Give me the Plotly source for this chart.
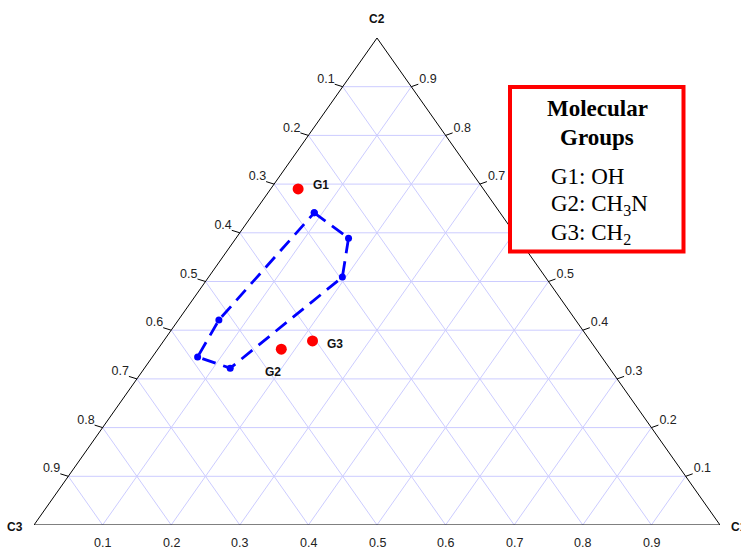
import plotly.graph_objects as go

# ---- data (ternary compositions) ----
group_names = ["G1", "G2", "G3"]
group_c1 = [0.040, 0.180, 0.217]
group_c2 = [0.690, 0.361, 0.378]
group_c3 = [0.270, 0.459, 0.405]

region_c1 = [0.088, 0.164, 0.195, 0.125, 0.066, 0.059, 0.088]
region_c2 = [0.641, 0.589, 0.509, 0.322, 0.345, 0.421, 0.641]
region_c3 = [0.271, 0.247, 0.296, 0.553, 0.589, 0.520, 0.271]

tick_values = [0.1, 0.2, 0.3, 0.4, 0.5, 0.6, 0.7, 0.8, 0.9]
tick_labels = ["0.1", "0.2", "0.3", "0.4", "0.5", "0.6", "0.7", "0.8", "0.9"]
axis_names = ["C1", "C2", "C3"]

legend_title = ["Molecular", "Groups"]
legend_lines = ["G1: OH", "G2: CH<sub>3</sub>N", "G3: CH<sub>2</sub>"]


def to_xy(c1, c2, c3):
    s = c1 + c2 + c3
    a, b = c1 / s, c2 / s
    return a + b / 2.0, b


def many(c1s, c2s, c3s):
    xs, ys = [], []
    for a, b, c in zip(c1s, c2s, c3s):
        x, y = to_xy(a, b, c)
        xs.append(x)
        ys.append(y)
    return xs, ys


W, H = 741, 549
ML, MR, MT, MB = 34, 21, 38, 24
PW, PH = W - ML - MR, H - MT - MB

fig = go.Figure()

# grid lines
gx, gy = [], []
for v in tick_values:
    for p, q in [((0, v, 1 - v), (1 - v, v, 0)),      # constant C2
                 ((v, 0, 1 - v), (v, 1 - v, 0)),      # constant C1
                 ((1 - v, 0, v), (0, 1 - v, v))]:     # constant C3
        x0, y0 = to_xy(*p)
        x1, y1 = to_xy(*q)
        gx += [x0, x1, None]
        gy += [y0, y1, None]
fig.add_trace(go.Scatter(x=gx, y=gy, mode="lines", hoverinfo="skip",
                         line=dict(color="rgb(204,204,255)", width=1)))

# triangle edges
ex, ey = many([0, 1, 0, 0], [0, 0, 1, 0], [1, 0, 0, 1])
fig.add_trace(go.Scatter(x=ex, y=ey, mode="lines", hoverinfo="skip",
                         line=dict(color="black", width=1)))

# tick marks (left: C3, right: C2) + corner ticks
dxl, dyl = -8 / PW, 2.5 / PH
dxr, dyr = 7 / PW, 2.5 / PH
tx, ty = [], []
for v in tick_values:
    x, y = to_xy(0, 1 - v, v)
    tx += [x, x + dxl, None]
    ty += [y, y + dyl, None]
    x, y = to_xy(1 - v, v, 0)
    tx += [x, x + dxr, None]
    ty += [y, y + dyr, None]
for c in [(0, 0, 1), (1, 0, 0)]:
    x, y = to_xy(*c)
    tx += [x, x, None]
    ty += [y, y - 5 / PH, None]
fig.add_trace(go.Scatter(x=tx, y=ty, mode="lines", hoverinfo="skip", cliponaxis=False,
                         line=dict(color="black", width=1)))

# side tick labels as text traces (so the legend box can cover them)
tick_font = dict(family="Arial, Liberation Sans, sans-serif", size=12.5, color="#222")
lx, ly, rx_, ry_ = [], [], [], []
for v in tick_values:
    x, y = to_xy(0, 1 - v, v)
    lx.append(x - 8 / PW); ly.append(y + 7 / PH)
    x, y = to_xy(1 - v, v, 0)
    rx_.append(x + 8 / PW); ry_.append(y + 7 / PH)
for xs, ys, pos in [(lx, ly, "middle left"), (rx_, ry_, "middle right")]:
    fig.add_trace(go.Scatter(x=xs, y=ys, mode="text", text=tick_labels, textposition=pos,
                             textfont=tick_font, cliponaxis=False, hoverinfo="skip"))

# region polygon
rx, ry = many(region_c1, region_c2, region_c3)
fig.add_trace(go.Scatter(x=rx, y=ry, mode="lines+markers", cliponaxis=False,
                         line=dict(color="#0000ff", width=2.8, dash="14px,8px"),
                         marker=dict(color="#0000ff", size=7)))

# group points
px_, py_ = many(group_c1, group_c2, group_c3)
fig.add_trace(go.Scatter(x=px_, y=py_, mode="markers", cliponaxis=False,
                         marker=dict(color="#ff0000", size=11)))

bold_font = dict(family="Arial, Liberation Sans, sans-serif", size=12, color="#111")

annotations = []
# bottom tick labels (C1)
for v, lab in zip(tick_values, tick_labels):
    x, y = to_xy(v, 0, 1 - v)
    annotations.append(dict(x=x, y=y, text=lab, showarrow=False, xanchor="center",
                            yanchor="middle", yshift=-18, font=tick_font))
# corner names
cx, cy = to_xy(1, 0, 0)
annotations.append(dict(x=cx, y=cy, text="<b>C1</b>", showarrow=False, xanchor="left",
                        yanchor="middle", xshift=9, yshift=-2, font=bold_font))
cx, cy = to_xy(0, 1, 0)
annotations.append(dict(x=cx, y=cy, text="<b>C2</b>", showarrow=False, xanchor="center",
                        yanchor="middle", yshift=19, font=bold_font))
cx, cy = to_xy(0, 0, 1)
annotations.append(dict(x=cx, y=cy, text="<b>C3</b>", showarrow=False, xanchor="right",
                        yanchor="middle", xshift=-9, yshift=-2, font=bold_font))

# group labels
label_offsets = [(13, 4, "left"), (-8, -23, "center"), (12, -3, "left")]
for name, x, y, (dx, dy, anc) in zip(group_names, px_, py_, label_offsets):
    annotations.append(dict(x=x, y=y, text="<b>" + name + "</b>", showarrow=False,
                            xanchor=anc, yanchor="middle", xshift=dx, yshift=dy,
                            font=dict(family="Arial, Liberation Sans, sans-serif",
                                      size=12, color="#111")))

# legend box text
serif = "Times New Roman, Liberation Serif, serif"
def px2paper(xp, yp):
    return (xp - ML) / PW, (H - MB - yp) / PH

for txt, ypix in zip(legend_title, [108, 137]):
    xp, yp = px2paper(597, ypix)
    annotations.append(dict(xref="paper", yref="paper", x=xp, y=yp, text="<b>" + txt + "</b>",
                            showarrow=False, xanchor="center", yanchor="middle",
                            font=dict(family=serif, size=23, color="black")))
for txt, ypix in zip(legend_lines, [177, 205, 234]):
    xp, yp = px2paper(549, ypix)
    annotations.append(dict(xref="paper", yref="paper", x=xp, y=yp, text=txt,
                            showarrow=False, xanchor="left", yanchor="middle",
                            font=dict(family=serif, size=23, color="black")))

bx0, by0 = px2paper(510, 251.5)
bx1, by1 = px2paper(683.5, 87)
shapes = [dict(type="rect", xref="paper", yref="paper", x0=bx0, y0=by0, x1=bx1, y1=by1,
               line=dict(color="#ff0000", width=4), fillcolor="white", layer="above")]

fig.update_layout(
    width=W, height=H, margin=dict(l=ML, r=MR, t=MT, b=MB, pad=0),
    plot_bgcolor="white", paper_bgcolor="white", showlegend=False,
    xaxis=dict(range=[0, 1], visible=False, fixedrange=True),
    yaxis=dict(range=[0, 1], visible=False, fixedrange=True),
    annotations=annotations, shapes=shapes,
)

fig.write_html("out.html")
